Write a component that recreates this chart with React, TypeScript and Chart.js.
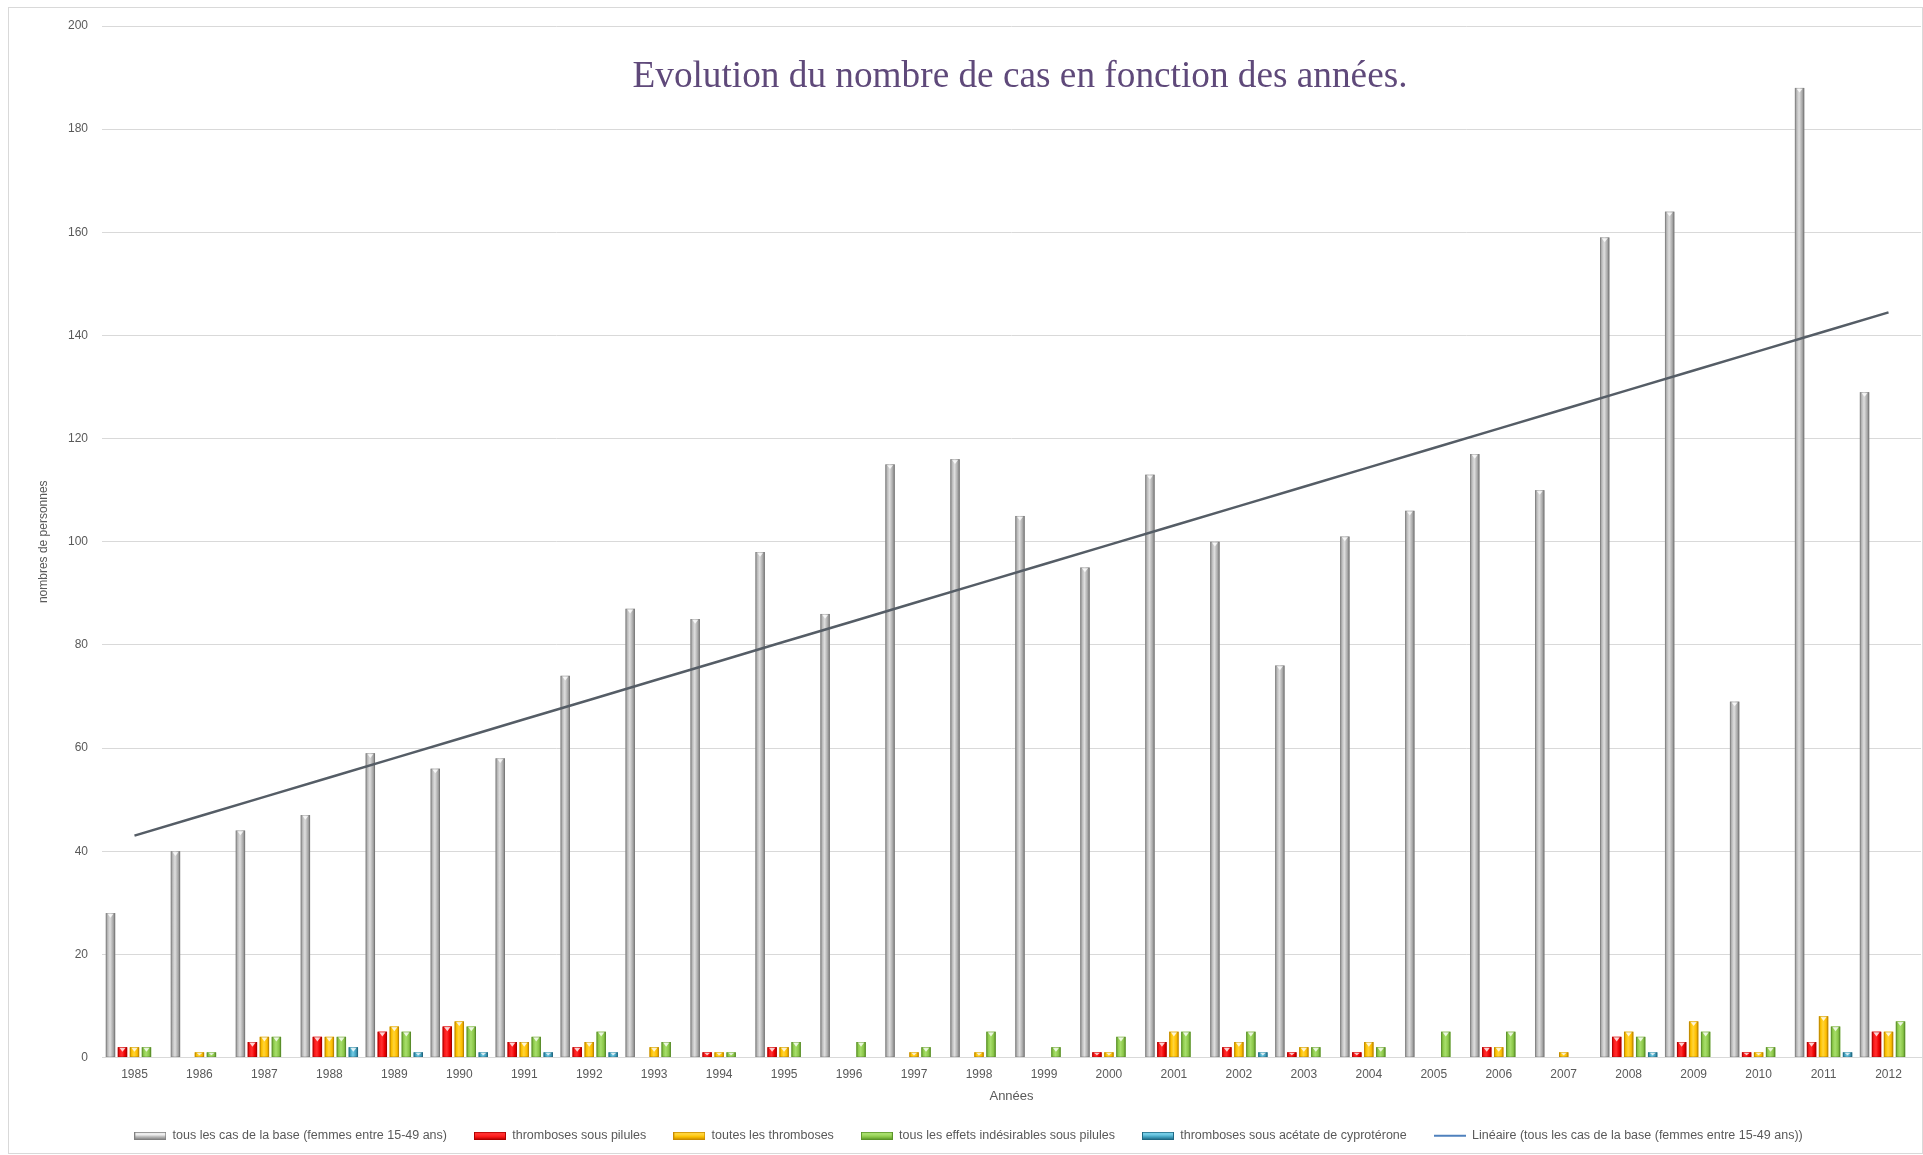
import React, { useEffect, useRef } from "react";
import { Chart, registerables } from "chart.js";

Chart.register(...registerables);

const years = [
  "1985", "1986", "1987", "1988", "1989", "1990", "1991", "1992", "1993", "1994",
  "1995", "1996", "1997", "1998", "1999", "2000", "2001", "2002", "2003", "2004",
  "2005", "2006", "2007", "2008", "2009", "2010", "2011", "2012",
];

const tousLesCas = [28, 40, 44, 47, 59, 56, 58, 74, 87, 85, 98, 86, 115, 116, 105, 95, 113, 100, 76, 101, 106, 117, 110, 159, 164, 69, 188, 129];
const thrombosesSousPilules = [2, 0, 3, 4, 5, 6, 3, 2, 0, 1, 2, 0, 0, 0, 0, 1, 3, 2, 1, 1, 0, 2, 0, 4, 3, 1, 3, 5];
const toutesLesThromboses = [2, 1, 4, 4, 6, 7, 3, 3, 2, 1, 2, 0, 1, 1, 0, 1, 5, 3, 2, 3, 0, 2, 1, 5, 7, 1, 8, 5];
const tousLesEffets = [2, 1, 4, 4, 5, 6, 4, 5, 3, 1, 3, 3, 2, 5, 2, 4, 5, 5, 2, 2, 5, 5, 0, 4, 5, 2, 6, 7];
const thrombosesCyproterone = [0, 0, 0, 2, 1, 1, 1, 1, 0, 0, 0, 0, 0, 0, 0, 0, 0, 1, 0, 0, 0, 0, 0, 1, 0, 0, 1, 0];

const seriesLabels = [
  "tous les cas de la base (femmes entre 15-49 ans)",
  "thromboses sous pilules",
  "toutes les thromboses",
  "tous les effets indésirables sous pilules",
  "thromboses sous acétate de cyprotérone",
  "Linéaire (tous les cas de la base (femmes entre 15-49 ans))",
];

const yTicks = [0, 20, 40, 60, 80, 100, 120, 140, 160, 180, 200];

const titleText = "Evolution du nombre de cas en fonction des années.";
const xTitle = "Années";
const yTitle = "nombres de personnes";

// horizontal gradient stops per bar series
const barStyles = [
  { base: "#b5b5b5", stops: ["#8c8c8c", "#bdbdbd", "#dedede", "#adadad", "#808080"] },
  { base: "#ff0000", stops: ["#b80000", "#ff1a1a", "#ff3030", "#ee0000", "#b00000"] },
  { base: "#ffc000", stops: ["#cf9200", "#ffc400", "#ffd43a", "#ffbf00", "#c98c00"] },
  { base: "#92d050", stops: ["#5f9a2c", "#8fcc4c", "#a8de6c", "#8cc84a", "#5a9428"] },
  { base: "#4bacc6", stops: ["#22708c", "#46a8c6", "#74cde6", "#43a2c0", "#1f6984"] },
];

const FONT = '"Liberation Sans", Arial, sans-serif';
const TEXT = "#595959";

function linearFit(values: number[]): number[] {
  const n = values.length;
  let sx = 0, sy = 0, sxy = 0, sxx = 0;
  values.forEach((v, i) => {
    sx += i; sy += v; sxy += i * v; sxx += i * i;
  });
  const slope = (n * sxy - sx * sy) / (n * sxx - sx * sx);
  const intercept = (sy - slope * sx) / n;
  return values.map((_, i) => intercept + slope * i);
}

function makeMarker(idx: number): HTMLCanvasElement {
  const c = document.createElement("canvas");
  c.width = 32;
  c.height = 8;
  const g = c.getContext("2d")!;
  if (idx === 5) {
    g.strokeStyle = "#4f81bd";
    g.lineWidth = 2;
    g.beginPath();
    g.moveTo(0, 4);
    g.lineTo(32, 4);
    g.stroke();
    return c;
  }
  const s = barStyles[idx].stops;
  const gr = g.createLinearGradient(0, 0, 0, 8);
  gr.addColorStop(0, s[2]);
  gr.addColorStop(0.35, idx === 0 ? "#f4f4f4" : s[2]);
  gr.addColorStop(0.6, s[1]);
  gr.addColorStop(1, s[4]);
  g.fillStyle = gr;
  g.fillRect(0, 0, 32, 8);
  g.strokeStyle = s[4];
  g.lineWidth = 1;
  g.strokeRect(0.5, 0.5, 31, 7);
  return c;
}

const barOverlay = {
  id: "barOverlay",
  afterDatasetDraw(chart: any, args: any) {
    const meta = args.meta;
    if (meta.type !== "bar") return;
    const style = barStyles[args.index];
    if (!style) return;
    const ctx = chart.ctx;
    ctx.save();
    meta.data.forEach((el: any) => {
      const { x, y, base, width } = el.getProps(["x", "y", "base", "width"], true);
      const h = base - y;
      if (Math.abs(h) < 0.5) return;
      const left = x - width / 2;
      const g = ctx.createLinearGradient(left, 0, left + width, 0);
      g.addColorStop(0, style.stops[0]);
      g.addColorStop(0.22, style.stops[1]);
      g.addColorStop(0.45, style.stops[2]);
      g.addColorStop(0.75, style.stops[3]);
      g.addColorStop(1, style.stops[4]);
      ctx.fillStyle = g;
      ctx.fillRect(left, y, width, h);
      // bevel cap
      const capH = Math.min(width * 0.5, h * 0.6);
      ctx.fillStyle = "rgba(255,255,255,0.8)";
      ctx.beginPath();
      ctx.moveTo(left + 1.5, y + 0.5);
      ctx.lineTo(left + width - 1.5, y + 0.5);
      ctx.lineTo(x, y + capH);
      ctx.closePath();
      ctx.fill();
      ctx.strokeStyle = "rgba(0,0,0,0.12)";
      ctx.lineWidth = 1;
      ctx.strokeRect(left + 0.5, y + 0.5, width - 1, h - 1);
    });
    ctx.restore();
  },
};

const legendShift = {
  id: "legendShift",
  afterLayout(chart: any) {
    if (chart.legend) {
      chart.legend.left += 8;
      chart.legend.right += 8;
    }
  },
};

const titlePlugin = {
  id: "insideTitle",
  afterDraw(chart: any) {
    const ctx = chart.ctx;
    ctx.save();
    ctx.font = '38px "Liberation Serif", "Times New Roman", serif';
    const w = ctx.measureText(titleText).width;
    const sx = 775 / w;
    ctx.translate(1020, 77);
    ctx.scale(sx, 1);
    ctx.fillStyle = "#5f497a";
    ctx.textAlign = "center";
    ctx.textBaseline = "middle";
    ctx.fillText(titleText, 0, 0);
    ctx.restore();
  },
};

export default function App() {
  const ref = useRef<HTMLCanvasElement | null>(null);

  useEffect(() => {
    if (!ref.current) return;
    const trend = linearFit(tousLesCas);
    const markers = [0, 1, 2, 3, 4, 5].map(makeMarker);
    const barSeries = [tousLesCas, thrombosesSousPilules, toutesLesThromboses, tousLesEffets, thrombosesCyproterone];

    const datasets: any[] = barSeries.map((data, i) => ({
      type: "bar",
      label: seriesLabels[i],
      data,
      backgroundColor: barStyles[i].base,
      borderWidth: 0,
      categoryPercentage: 0.923,
      barPercentage: 0.78,
      order: 1,
    }));
    datasets.push({
      type: "line",
      label: seriesLabels[5],
      data: trend,
      borderColor: "#555d66",
      borderWidth: 2.5,
      pointRadius: 0,
      fill: false,
      tension: 0,
      order: 0,
    });

    const chart = new Chart(ref.current, {
      type: "bar",
      data: { labels: years, datasets },
      options: {
        responsive: false,
        animation: false,
        devicePixelRatio: 1,
        layout: { padding: { top: 26, right: 2, left: 0, bottom: 3 } },
        plugins: {
          tooltip: { enabled: false },
          title: { display: false },
          legend: {
            position: "bottom",
            onClick: () => {},
            labels: {
              font: { family: FONT, size: 12.5 },
              color: TEXT,
              padding: 27,
              usePointStyle: true,
              pointStyleWidth: 32,
              boxHeight: 12,
              generateLabels: () =>
                seriesLabels.map((text, i) => ({
                  text,
                  pointStyle: markers[i],
                  fillStyle: "transparent",
                  strokeStyle: "transparent",
                  lineWidth: 0,
                  hidden: false,
                  datasetIndex: i,
                  fontColor: TEXT,
                })),
            },
          },
        },
        scales: {
          x: {
            afterFit: (s: any) => {
              s.height = 45;
            },
            grid: { display: false, drawTicks: false },
            border: { display: true, color: "#d9d9d9", width: 1 },
            ticks: {
              font: { family: FONT, size: 12 },
              color: TEXT,
              padding: 10,
              maxRotation: 0,
              autoSkip: false,
            },
            title: {
              display: true,
              text: xTitle,
              font: { family: FONT, size: 13, lineHeight: 1 },
              color: TEXT,
              padding: { top: 0, bottom: 0 },
            },
          },
          y: {
            min: 0,
            max: 200,
            afterFit: (s: any) => {
              s.width = 102;
            },
            afterBuildTicks: (s: any) => {
              s.ticks = yTicks.map((v) => ({ value: v }));
            },
            grid: { color: "#d9d9d9", lineWidth: 1, drawTicks: false },
            border: { display: false },
            ticks: {
              font: { family: FONT, size: 12 },
              color: TEXT,
              padding: 14,
            },
            title: {
              display: true,
              text: yTitle,
              font: { family: FONT, size: 12 },
              color: TEXT,
              padding: { top: 36, bottom: 0 },
            },
          },
        },
      },
      plugins: [barOverlay, titlePlugin, legendShift],
    } as any);

    return () => {
      chart.destroy();
    };
  }, []);

  return (
    <div style={{ position: "fixed", left: 0, top: 0, width: 1923, height: 1155, background: "#fff" }}>
      <canvas ref={ref} width={1923} height={1155} style={{ position: "absolute", left: 0, top: 0, width: 1923, height: 1155 }} />
      <div
        style={{
          position: "absolute",
          left: 8,
          top: 7,
          width: 1913,
          height: 1145,
          border: "1px solid #d9d9d9",
          pointerEvents: "none",
        }}
      />
    </div>
  );
}
